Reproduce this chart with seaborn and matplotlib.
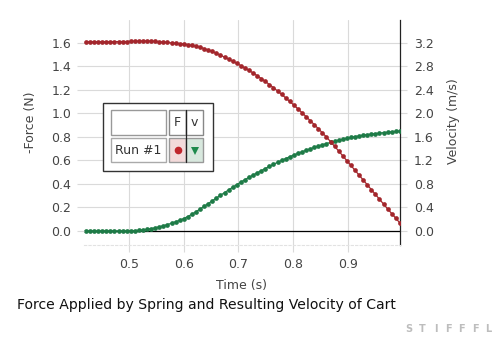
import matplotlib
matplotlib.use("Agg")
import matplotlib.pyplot as plt
from matplotlib.patches import Rectangle
from matplotlib.lines import Line2D
import numpy as np
import pandas as pd
import seaborn as sns

# ---------------- data ----------------
time_s = [
    0.4215, 0.4290, 0.4364, 0.4439, 0.4513, 0.4588, 0.4662, 0.4737, 0.4811, 0.4886,
    0.4960, 0.5035, 0.5109, 0.5184, 0.5258, 0.5333, 0.5407, 0.5482, 0.5556, 0.5631,
    0.5705, 0.5780, 0.5854, 0.5929, 0.6003, 0.6078, 0.6152, 0.6227, 0.6301, 0.6376,
    0.6450, 0.6525, 0.6599, 0.6674, 0.6748, 0.6823, 0.6897, 0.6972, 0.7046, 0.7121,
    0.7195, 0.7270, 0.7344, 0.7419, 0.7493, 0.7568, 0.7642, 0.7717, 0.7791, 0.7866,
    0.7940, 0.8015, 0.8089, 0.8164, 0.8238, 0.8313, 0.8387, 0.8462, 0.8536, 0.8611,
    0.8685, 0.8760, 0.8834, 0.8909, 0.8983, 0.9058, 0.9132, 0.9207, 0.9281, 0.9356,
    0.9430, 0.9505, 0.9579, 0.9654, 0.9728, 0.9803, 0.9877, 0.9952,
]
force_n = [
    1.610, 1.610, 1.610, 1.610, 1.610, 1.610, 1.610, 1.611, 1.611, 1.612,
    1.612, 1.613, 1.614, 1.615, 1.616, 1.616, 1.615, 1.613, 1.610, 1.607,
    1.604, 1.600, 1.597, 1.594, 1.590, 1.585, 1.579, 1.572, 1.563, 1.552,
    1.540, 1.527, 1.512, 1.496, 1.479, 1.462, 1.444, 1.426, 1.407, 1.387,
    1.366, 1.344, 1.321, 1.297, 1.272, 1.246, 1.219, 1.191, 1.162, 1.132,
    1.102, 1.071, 1.039, 1.006, 0.973, 0.939, 0.905, 0.870, 0.835, 0.799,
    0.760, 0.720, 0.680, 0.639, 0.598, 0.557, 0.516, 0.475, 0.434, 0.393,
    0.352, 0.311, 0.270, 0.229, 0.188, 0.148, 0.108, 0.068,
]
velocity_ms = [
    0.000, 0.000, 0.000, 0.000, 0.000, 0.000, 0.000, 0.000, 0.000, 0.000,
    0.000, 0.002, 0.005, 0.010, 0.017, 0.027, 0.039, 0.053, 0.069, 0.088,
    0.108, 0.131, 0.156, 0.180, 0.210, 0.245, 0.284, 0.326, 0.372, 0.418,
    0.465, 0.512, 0.559, 0.606, 0.652, 0.698, 0.743, 0.787, 0.830, 0.872,
    0.912, 0.950, 0.988, 1.025, 1.062, 1.098, 1.133, 1.167, 1.200, 1.232,
    1.262, 1.291, 1.319, 1.346, 1.372, 1.397, 1.421, 1.444, 1.466, 1.487,
    1.507, 1.526, 1.544, 1.561, 1.577, 1.592, 1.605, 1.617, 1.628, 1.638,
    1.647, 1.656, 1.664, 1.672, 1.679, 1.686, 1.693, 1.700,
]
x_ticks = [0.5, 0.6, 0.7, 0.8, 0.9]
force_ticks = [0.0, 0.2, 0.4, 0.6, 0.8, 1.0, 1.2, 1.4, 1.6]
velocity_ticks = [0.0, 0.4, 0.8, 1.2, 1.6, 2.0, 2.4, 2.8, 3.2]
x_label = "Time (s)"
force_label = "-Force (N)"
velocity_label = "Velocity (m/s)"
title = "Force Applied by Spring and Resulting Velocity of Cart"
legend_cols = ["F", "v"]
legend_run = "Run #1"
watermark = "STIFFFL"

RED = "#a3262c"
GREEN = "#1e7b47"
GRID = "#dadada"
TICKC = "#444444"

sns.set_theme(style="white")
plt.rcParams["font.family"] = ["DejaVu Sans"]

W, H = 500, 337
fig = plt.figure(figsize=(W / 100, H / 100), dpi=100)
fig.patch.set_facecolor("white")

# axes box in pixels: left 84, right 400, top 20, bottom 245
ax2 = fig.add_axes([84 / W, (H - 245) / H, 316 / W, 225 / H])  # velocity (bottom layer)
ax = ax2.twinx()  # force (top layer)

df = pd.DataFrame({"t": time_s, "F": force_n, "v": velocity_ms})

sns.lineplot(data=df, x="t", y="v", ax=ax2, color=GREEN, marker="o",
             markersize=3.4, markeredgewidth=0, linewidth=0.9,
             estimator=None, sort=False, zorder=3)
sns.lineplot(data=df, x="t", y="F", ax=ax, color=RED, marker="o",
             markersize=3.4, markeredgewidth=0, linewidth=0.9,
             estimator=None, sort=False, zorder=3)

xlim = (0.418, 0.9955)
ax2.set_xlim(*xlim)
ax.set_xlim(*xlim)
ax.set_ylim(-0.12, 1.795)
ax2.set_ylim(-0.24, 3.59)

# velocity axis on the right, force on the left
ax2.yaxis.tick_right()
ax2.yaxis.set_label_position("right")
ax.yaxis.tick_left()
ax.yaxis.set_label_position("left")

ax2.set_xticks(x_ticks)
ax2.set_xticklabels([f"{v:.1f}" for v in x_ticks])
ax.set_yticks(force_ticks)
ax.set_yticklabels([f"{v:.1f}" for v in force_ticks])
ax2.set_yticks(velocity_ticks)
ax2.set_yticklabels([f"{v:.1f}" for v in velocity_ticks])

ax2.grid(True, color=GRID, linewidth=0.8, zorder=0)
ax.grid(False)
ax2.axhline(0, color="black", linewidth=0.9, zorder=2)

for s in ax.spines.values():
    s.set_visible(False)
for name, s in ax2.spines.items():
    s.set_visible(False)
ax2.spines["right"].set_visible(True)
ax2.spines["right"].set_color("#222222")
ax2.spines["right"].set_linewidth(0.9)
ax2.spines["bottom"].set_visible(True)
ax2.spines["bottom"].set_color("#e2e2e2")
ax2.spines["bottom"].set_linestyle((0, (2, 2)))
ax2.spines["bottom"].set_linewidth(0.8)

ax2.tick_params(axis="x", which="both", bottom=True, top=False, length=5, width=0.8,
                color=GRID, labelsize=9, labelcolor=TICKC, pad=4)
ax2.tick_params(axis="y", which="both", right=True, left=False, length=5, width=0.8,
                color=GRID, labelsize=9, labelcolor=TICKC, pad=5)
ax.tick_params(axis="y", which="both", left=True, right=False, length=5, width=0.8,
               color=GRID, labelsize=9, labelcolor=TICKC, pad=4)
ax.tick_params(axis="x", bottom=False, labelbottom=False)

ax2.set_xlabel(x_label, fontsize=9, color=TICKC)
ax2.xaxis.set_label_coords(0.5, -0.15)
ax.set_ylabel(force_label, fontsize=9, color=TICKC)
ax.yaxis.set_label_coords(-0.15, 0.545)
ax2.set_ylabel(velocity_label, fontsize=9, color=TICKC)
ax2.yaxis.set_label_coords(1.15, 0.55)

# ---------------- legend table ----------------
def rect(x0, y0, x1, y1, **kw):
    r = Rectangle((x0 / W, 1 - y1 / H), (x1 - x0) / W, (y1 - y0) / H,
                  transform=fig.transFigure, **kw)
    fig.add_artist(r)
    return r

rect(103.3, 102.7, 212.7, 171.3, facecolor="white", edgecolor="#333333", linewidth=1.0, zorder=5)
rect(110.7, 110.3, 165.7, 134.7, facecolor="white", edgecolor="#999999", linewidth=1.0, zorder=6)
rect(110.7, 138.0, 165.7, 162.3, facecolor="white", edgecolor="#aaaaaa", linewidth=1.0, zorder=6)
rect(169.0, 110.3, 186.3, 134.7, facecolor="white", edgecolor="#888888", linewidth=1.0, zorder=6)
rect(186.3, 110.3, 203.3, 134.7, facecolor="white", edgecolor="#888888", linewidth=1.0, zorder=6)
rect(169.0, 138.0, 186.3, 162.3, facecolor="#f3dada", edgecolor="#999999", linewidth=1.0, zorder=6)
rect(186.3, 138.0, 203.3, 162.3, facecolor="#d8e8de", edgecolor="#999999", linewidth=1.0, zorder=6)
fig.add_artist(Line2D([186.3 / W, 186.3 / W], [1 - 110.3 / H, 1 - 162.3 / H],
                      transform=fig.transFigure, color="#222222", linewidth=0.9, zorder=7))

def ftxt(x, y, s, **kw):
    fig.text(x / W, 1 - y / H, s, transform=fig.transFigure, **kw)

ftxt(177.6, 122.5, legend_cols[0], ha="center", va="center", fontsize=9, color="#333333", zorder=8)
ftxt(194.8, 122.5, legend_cols[1], ha="center", va="center", fontsize=9, color="#333333", zorder=8)
ftxt(138.2, 150.2, legend_run, ha="center", va="center", fontsize=9, color="#333333", zorder=8)
fig.add_artist(Line2D([177.6 / W], [1 - 150.2 / H], transform=fig.transFigure, marker="o",
                      markersize=5.5, color="#c0262c", markeredgewidth=0, zorder=8))
fig.add_artist(Line2D([194.8 / W], [1 - 150.8 / H], transform=fig.transFigure, marker="v",
                      markersize=5.5, color="#1e8a4c", markeredgewidth=0, zorder=8))

# ---------------- caption & watermark ----------------
ftxt(17, 309, title, ha="left", va="baseline", fontsize=10.1, color="#111111")
for i, ch in enumerate(watermark):
    ftxt(409 + i * 13.2, 329, ch, ha="center", va="center", fontsize=7,
         color="#bdbdbd", fontweight="bold")

fig.savefig("out.png", dpi=100, facecolor="white")
